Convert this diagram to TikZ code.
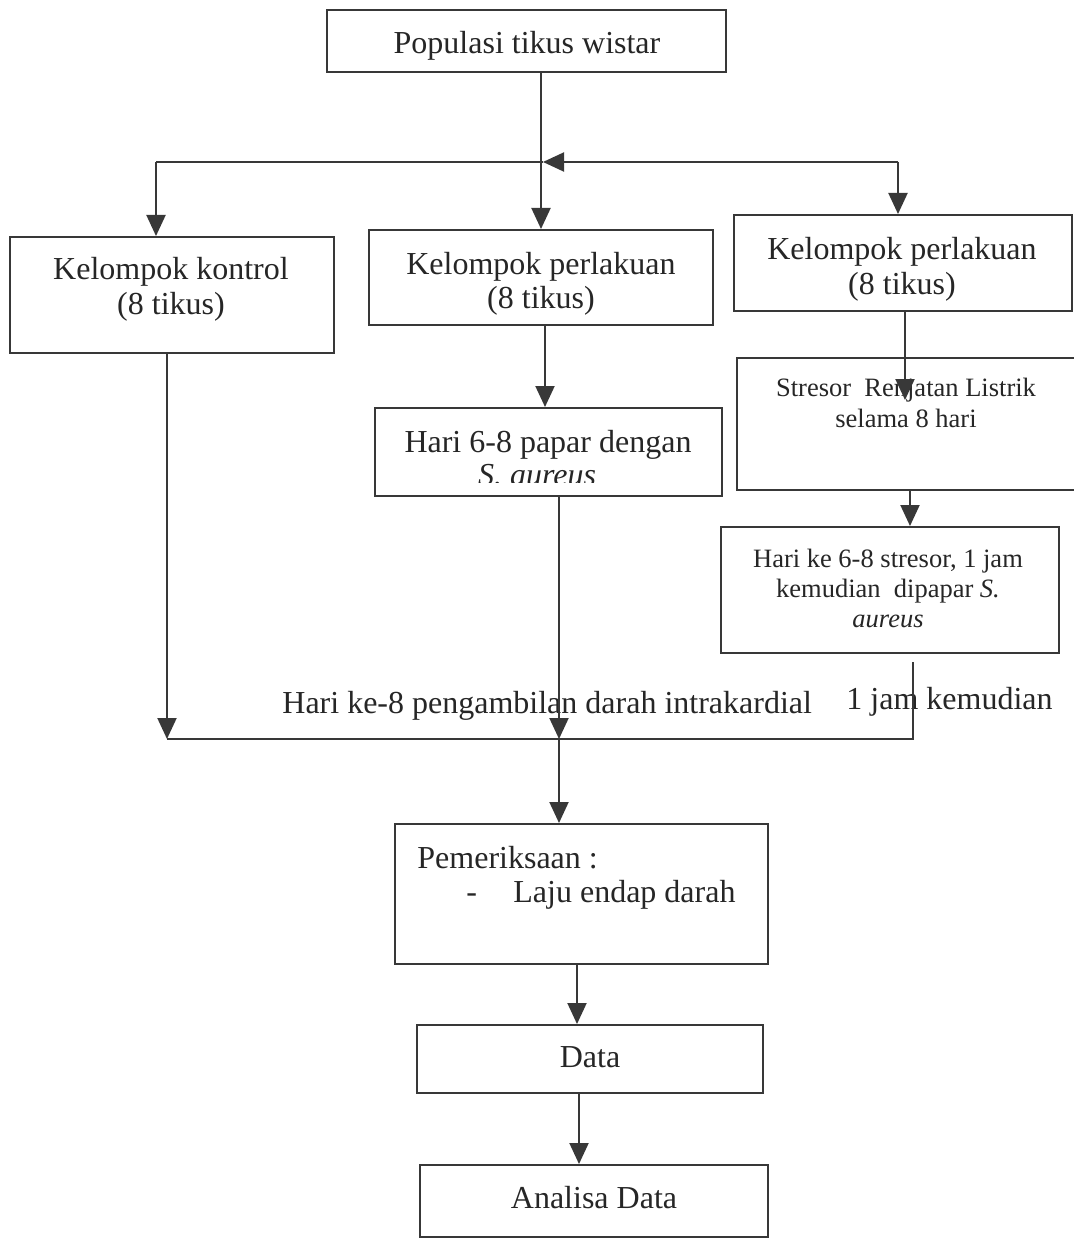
\documentclass[tikz,border=0pt]{standalone}
\usepackage{fontspec}
\setmainfont{Liberation Serif}
\usetikzlibrary{arrows.meta,fit,calc}
\definecolor{ink}{HTML}{262626}
\definecolor{linec}{HTML}{383838}
\begin{document}
\begin{tikzpicture}[x=0.5pt,y=-0.5pt,
  box/.style={draw=linec,line width=1pt,inner sep=0pt},
  ln/.style={draw=linec,line width=1pt},
  arr/.style={draw=linec,line width=1pt,-{Triangle[length=10.5pt,width=9.5pt]}},
  big/.style={font=\fontsize{16}{18}\selectfont,text=ink,inner sep=0pt,anchor=base},
  small/.style={font=\fontsize{13.25}{15}\selectfont,text=ink,inner sep=0pt,anchor=base},
]
\useasboundingbox[fill=white] (0,0) rectangle (1074,1241);

% boxes
\node[box,fit={(327,10) (726,72)}] (pop) {};
\node[box,fit={(10,237) (334,353)}] (kontrol) {};
\node[box,fit={(369,230) (713,325)}] (mid) {};
\node[box,fit={(734,215) (1072,311)}] (right) {};
\node[box,fit={(737,358) (1084,490)}] (stresor) {};
\node[box,fit={(375,408) (722,496)}] (hari68) {};
\node[box,fit={(721,527) (1059,653)}] (harike) {};
\node[box,fit={(395,824) (768,964)}] (pem) {};
\node[box,fit={(417,1025) (763,1093)}] (data) {};
\node[box,fit={(420,1165) (768,1237)}] (analisa) {};

% texts
\node[big] (popT) at (527,54) {Populasi tikus wistar};
\node[big] (kT1) at (171,279) {Kelompok kontrol};
\node[big] (kT2) at (171,314) {(8 tikus)};
\node[big] (mT1) at (541,274) {Kelompok perlakuan};
\node[big] (mT2) at (541,308) {(8 tikus)};
\node[big] (rT1) at (902,259) {Kelompok perlakuan};
\node[big] (rT2) at (902,294) {(8 tikus)};
\node[small] (sT1) at (906,396) {Stresor\ \ Renjatan Listrik};
\node[small] (sT2) at (906,427) {selama 8 hari};
\node[big] (hT1) at (548,452) {Hari 6-8 papar dengan};
\begin{scope}
  \clip (376,440) rectangle (721,482);
  \node[big] (hT2) at (537,485) {\itshape S. aureus};
\end{scope}
\node[small] (kkT1) at (888,567) {Hari ke 6-8 stresor, 1 jam};
\node[small] (kkT2) at (888,597) {kemudian\ \ dipapar \textit{S.}};
\node[small] (kkT3) at (888,627) {\itshape aureus};
\node[big,anchor=base west] (bT1) at (282,713) {Hari ke-8 pengambilan darah intrakardial};
\node[big,anchor=base west] (bT2) at (846,709) {1 jam kemudian};
\node[big,anchor=base west] (pT1) at (417,868) {Pemeriksaan :};
\node[big,anchor=base west] (pT2) at (466,902) {-};
\node[big,anchor=base west] (pT3) at (513,902) {Laju endap darah};
\node[big] (dT) at (590,1067) {Data};
\node[big] (aT) at (594,1208) {Analisa Data};

% coordinates
\coordinate (jl) at (156,162);
\coordinate (jc) at (543,162);
\coordinate (jr) at (898,162);
\coordinate (sx) at (905,400);
\coordinate (rtop) at (913,662);
\coordinate (bl) at (167,739);
\coordinate (bm) at (559,739);
\coordinate (br) at (913,739);

% connectors
\draw[arr] (pop.south -| mid.north) -- (mid.north);
\draw[arr] (jr) -- (jc);
\draw[ln] (jc) -- (jl);
\draw[arr] (jl) -- (jl |- kontrol.north);
\draw[arr] (jr) -- (jr |- right.north);
\draw[arr] (right.south -| sx) -- (sx);
\draw[arr] (mid.south -| 545,0) -- (hari68.north -| 545,0);
\draw[arr] (stresor.south -| 910,0) -- (harike.north -| 910,0);
\draw[ln] (rtop) -- (br) -- (bl);
\draw[arr] (kontrol.south -| bl) -- (bl);
\draw[arr] (hari68.south -| bm) -- (bm);
\draw[arr] (bm) -- (pem.north -| bm);
\draw[arr] (pem.south -| 577,0) -- (data.north -| 577,0);
\draw[arr] (data.south -| 579,0) -- (analisa.north -| 579,0);
\end{tikzpicture}
\end{document}
